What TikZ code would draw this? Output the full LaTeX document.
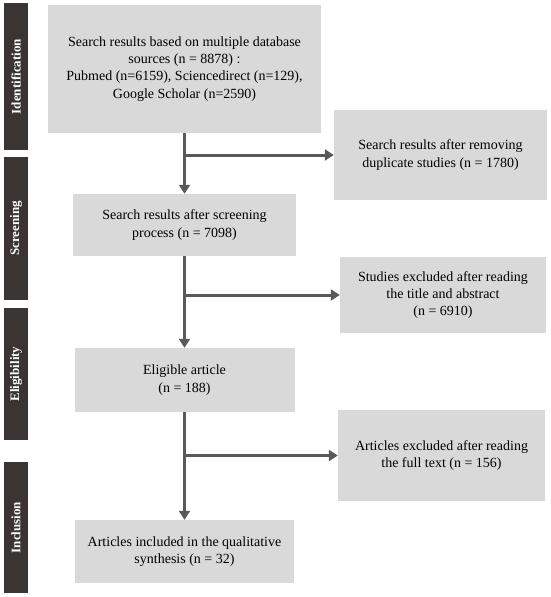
\documentclass[tikz,border=0pt]{standalone}
\usepackage{fontspec}
\setmainfont{Liberation Serif}
\usetikzlibrary{arrows.meta}
\definecolor{boxgray}{HTML}{D9D9D9}
\definecolor{bardark}{HTML}{3A3532}
\definecolor{arrgray}{HTML}{595959}
\tikzset{
  box/.style={fill=boxgray, align=center, inner sep=0pt, font=\fontsize{14}{17.3}\selectfont},
  sidebar/.style={fill=bardark, inner sep=0pt},
  bartext/.style={rotate=90, text=white, font=\bfseries\fontsize{13}{15}\selectfont},
  arr/.style={draw=arrgray, line width=3pt, -{Triangle[length=9pt,width=11pt]}}
}
\begin{document}
\begin{tikzpicture}[x=1pt,y=-1pt]
\useasboundingbox (0,0) rectangle (550,597);
% side bars
\node[sidebar, minimum width=24pt, minimum height=147pt] (sI) at (16,76.5) {};
\node[bartext] (tI) at (sI.center) {Identification};
\node[sidebar, minimum width=24pt, minimum height=143pt] (sS) at (16,228.5) {};
\node[bartext] (tS) at (sS.center) {Screening};
\node[sidebar, minimum width=24pt, minimum height=132pt] (sE) at (16,374) {};
\node[bartext] (tE) at (sE.center) {Eligibility};
\node[sidebar, minimum width=24pt, minimum height=131pt] (sN) at (16,527.5) {};
\node[bartext] (tN) at (sN.center) {Inclusion};
% main boxes
\node[box, minimum width=273pt, minimum height=128pt] (b1) at (184.5,69)
  {Search results based on multiple database\\sources (n = 8878) :\\Pubmed (n=6159), Sciencedirect (n=129),\\Google Scholar (n=2590)};
\node[box, minimum width=223pt, minimum height=62pt] (b2) at (184.5,225)
  {Search results after screening\\process (n = 7098)};
\node[box, minimum width=220pt, minimum height=64pt] (b3) at (184.5,380)
  {Eligible article\\(n = 188)};
\node[box, minimum width=219pt, minimum height=63pt] (b4) at (184.5,551.5)
  {Articles included in the qualitative\\synthesis (n = 32)};
% right boxes
\node[box, minimum width=213pt, minimum height=90pt] (r1) at (440.5,155)
  {Search results after removing\\duplicate studies (n = 1780)};
\node[box, minimum width=206pt, minimum height=76pt] (r2) at (443,295)
  {Studies excluded after reading\\the title and abstract\\(n = 6910)};
\node[box, minimum width=207pt, minimum height=91pt] (r3) at (441.5,455.5)
  {Articles excluded after reading\\the full text (n = 156)};
% arrows
\draw[arr] (b1.south) -- (b2.north);
\draw[arr] (b1.south |- r1.west) -- (r1.west);
\draw[arr] (b2.south) -- (b3.north);
\draw[arr] (b2.south |- r2.west) -- (r2.west);
\draw[arr] (b3.south) -- (b4.north);
\draw[arr] (b3.south |- r3.west) -- (r3.west);
\end{tikzpicture}
\end{document}
